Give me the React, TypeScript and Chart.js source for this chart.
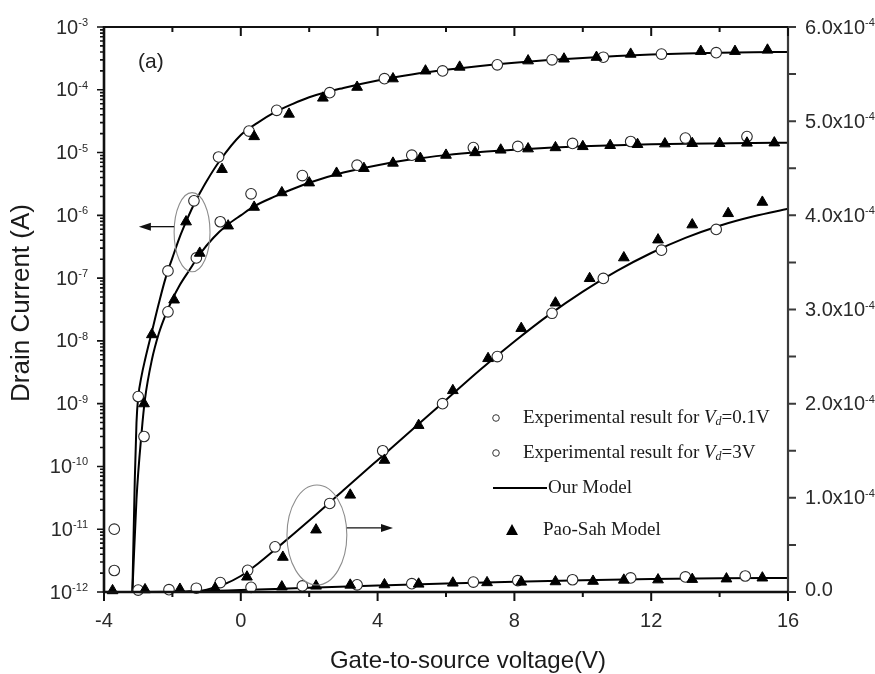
import React, { useEffect, useRef } from "react";
import { Chart, registerables } from "chart.js";

Chart.register(...registerables);

// ---------- Model curves ("Our Model"), left log axis ----------
const modelLogVd3X = [-3.17, -3.1, -3.05, -3.0, -2.9, -2.8, -2.6, -2.4, -2.2, -2.0, -1.8, -1.6, -1.4, -1.2, -1.0, -0.6, 0, 0.5, 1, 1.5, 2, 3, 4, 5, 6, 7, 8, 9, 10, 11, 12, 13, 14, 15, 16];
const modelLogVd3Y = [1e-12, 6e-11, 5e-10, 1.26e-9, 2.8e-9, 5e-9, 1.4e-8, 3.9e-8, 1.0e-7, 2.1e-7, 4.3e-7, 7.9e-7, 1.38e-6, 2.24e-6, 3.5e-6, 7.6e-6, 1.9e-5, 3.0e-5, 4.4e-5, 5.9e-5, 7.6e-5, 1.07e-4, 1.41e-4, 1.75e-4, 2.08e-4, 2.4e-4, 2.7e-4, 2.97e-4, 3.22e-4, 3.45e-4, 3.65e-4, 3.8e-4, 3.9e-4, 3.96e-4, 4.0e-4];

const modelLogVd01X = [-3.17, -3.05, -2.9, -2.8, -2.6, -2.4, -2.2, -2.0, -1.8, -1.5, -1.2, -0.8, -0.4, 0, 0.4, 1, 1.5, 2, 3, 4, 5, 6, 7, 8, 9, 10, 11, 12, 13, 14, 15, 16];
const modelLogVd01Y = [1e-12, 3e-11, 3.5e-10, 1.2e-9, 5e-9, 1.3e-8, 2.6e-8, 4.6e-8, 7.5e-8, 1.35e-7, 2.4e-7, 4.4e-7, 7e-7, 1.0e-6, 1.4e-6, 2.0e-6, 2.6e-6, 3.3e-6, 4.8e-6, 6.3e-6, 7.8e-6, 9.1e-6, 1.02e-5, 1.11e-5, 1.19e-5, 1.26e-5, 1.31e-5, 1.35e-5, 1.38e-5, 1.4e-5, 1.42e-5, 1.43e-5];

// ---------- Model curves, right linear axis ----------
const modelLinVd3X = [-1.6, -1.0, -0.5, 0, 0.5, 1, 2, 3, 4, 5, 6, 7, 8, 9, 10, 11, 12, 13, 14, 15, 16];
const modelLinVd3Y = [0, 2.5e-6, 8e-6, 1.7e-5, 3.0e-5, 4.5e-5, 7.6e-5, 1.08e-4, 1.4e-4, 1.72e-4, 2.04e-4, 2.36e-4, 2.66e-4, 2.94e-4, 3.19e-4, 3.41e-4, 3.6e-4, 3.76e-4, 3.89e-4, 3.99e-4, 4.07e-4];

const modelLinVd01X = [-3.17, -2, -1, 0, 1, 2, 4, 6, 8, 10, 12, 14, 16];
const modelLinVd01Y = [0, 3e-7, 1e-6, 2.2e-6, 3.3e-6, 4.5e-6, 6.8e-6, 9e-6, 1.1e-5, 1.26e-5, 1.38e-5, 1.46e-5, 1.5e-5];

// ---------- Experimental results (circles) ----------
const expLogVd3X = [-3.0, -2.13, -1.37, -0.65, 0.24, 1.05, 2.6, 4.2, 5.9, 7.5, 9.1, 10.6, 12.3, 13.9];
const expLogVd3Y = [1.3e-9, 1.3e-7, 1.7e-6, 8.5e-6, 2.2e-5, 4.7e-5, 9e-5, 1.5e-4, 2e-4, 2.5e-4, 3e-4, 3.3e-4, 3.7e-4, 3.9e-4];

const expLogVd01X = [-3.7, -3.7, -2.83, -2.13, -1.3, -0.6, 0.3, 1.8, 3.4, 5.0, 6.8, 8.1, 9.7, 11.4, 13.0, 14.8];
const expLogVd01Y = [1e-11, 2.2e-12, 3e-10, 2.9e-8, 2.1e-7, 7.9e-7, 2.2e-6, 4.3e-6, 6.3e-6, 9.1e-6, 1.2e-5, 1.25e-5, 1.4e-5, 1.5e-5, 1.7e-5, 1.8e-5];

const expLinVd3X = [-0.6, 0.2, 1.0, 2.6, 4.15, 5.9, 7.5, 9.1, 10.6, 12.3, 13.9];
const expLinVd3Y = [1e-5, 2.3e-5, 4.8e-5, 9.4e-5, 1.5e-4, 2.0e-4, 2.5e-4, 2.96e-4, 3.33e-4, 3.63e-4, 3.85e-4];

const expLinVd01X = [-3.0, -2.1, -1.3, 0.3, 1.8, 3.4, 5.0, 6.8, 8.1, 9.7, 11.4, 13.0, 14.75];
const expLinVd01Y = [2e-6, 2.5e-6, 4e-6, 5e-6, 6.4e-6, 7.6e-6, 8.8e-6, 1.05e-5, 1.2e-5, 1.3e-5, 1.5e-5, 1.6e-5, 1.7e-5];

// ---------- Pao-Sah model (triangles) ----------
const paoLogVd3X = [-2.6, -1.6, -0.55, 0.39, 1.41, 2.4, 3.4, 4.45, 5.4, 6.4, 8.4, 9.45, 10.4, 11.4, 13.45, 14.45, 15.4];
const paoLogVd3Y = [1.26e-8, 7.9e-7, 5.4e-6, 1.8e-5, 4.1e-5, 7.4e-5, 1.1e-4, 1.5e-4, 2e-4, 2.3e-4, 2.9e-4, 3.1e-4, 3.3e-4, 3.7e-4, 4.1e-4, 4.1e-4, 4.3e-4];

const paoLogVd01X = [-2.83, -1.95, -1.2, -0.37, 0.39, 1.2, 2.0, 2.8, 3.6, 4.45, 5.25, 6.0, 6.85, 7.6, 8.4, 9.2, 10.0, 10.8, 11.6, 12.4, 13.2, 14.0, 14.8, 15.6];
const paoLogVd01Y = [1e-9, 4.5e-8, 2.5e-7, 6.8e-7, 1.35e-6, 2.3e-6, 3.3e-6, 4.7e-6, 5.6e-6, 6.8e-6, 8.1e-6, 9.1e-6, 1.0e-5, 1.1e-5, 1.15e-5, 1.2e-5, 1.25e-5, 1.3e-5, 1.35e-5, 1.38e-5, 1.4e-5, 1.4e-5, 1.42e-5, 1.43e-5];

const paoLinVd3X = [0.18, 1.23, 2.2, 3.2, 4.2, 5.2, 6.2, 7.23, 8.2, 9.2, 10.2, 11.2, 12.2, 13.2, 14.25, 15.25];
const paoLinVd3Y = [1.6e-5, 3.7e-5, 6.6e-5, 1.03e-4, 1.4e-4, 1.77e-4, 2.14e-4, 2.48e-4, 2.8e-4, 3.07e-4, 3.33e-4, 3.55e-4, 3.74e-4, 3.9e-4, 4.02e-4, 4.14e-4];

const paoLinVd01X = [-3.75, -2.8, -1.78, -0.75, 1.2, 2.2, 3.2, 4.2, 5.2, 6.2, 7.2, 8.2, 9.2, 10.3, 11.2, 12.2, 13.2, 14.2, 15.25];
const paoLinVd01Y = [1.5e-6, 2.5e-6, 3e-6, 4e-6, 5.5e-6, 6.4e-6, 7.4e-6, 7.8e-6, 8.5e-6, 9.6e-6, 1.0e-5, 1.06e-5, 1.1e-5, 1.15e-5, 1.27e-5, 1.3e-5, 1.35e-5, 1.4e-5, 1.5e-5];

// ---------- Axes ----------
const xMin = -4, xMax = 16;
const xMajorTicks = [-4, 0, 4, 8, 12, 16];
const xMinorTicks = [-2, 2, 6, 10, 14];
const leftExponents = [-12, -11, -10, -9, -8, -7, -6, -5, -4, -3];
const rightTicks = [0, 1e-4, 2e-4, 3e-4, 4e-4, 5e-4, 6e-4];
const rightMinorTicks = [0.5e-4, 1.5e-4, 2.5e-4, 3.5e-4, 4.5e-4, 5.5e-4];
const rightExponent = -4;

const xTitle = "Gate-to-source voltage(V)";
const yTitle = "Drain Current (A)";
const panelLabel = "(a)";
const legendLabels = ["Experimental result for ", "Experimental result for ", "Our Model", "Pao-Sah Model"];
const legendVd = ["=0.1V", "=3V"];

// annotation groupings in data units
const groupLeft = { x0: -1.95, x1: -0.9, yLow: 1.26e-7, yHigh: 2.3e-6, arrowY: 6.6e-7, arrowTo: -2.98 };
const groupRight = { x0: 1.35, x1: 3.1, yLow: 7.4e-6, yHigh: 1.136e-4, arrowY: 6.8e-5, arrowTo: 4.45 };

const pts = (xs: number[], ys: number[]) => xs.map((x, i) => ({ x, y: ys[i] }));

const SANS = '"Liberation Sans", Arial, sans-serif';
const SERIF = '"Liberation Serif", "Times New Roman", serif';

const decor = {
  id: "decor",
  afterDatasetsDraw(chart: any) {
    const { ctx, chartArea: a } = chart;
    const sx = chart.scales.x;
    const sy = chart.scales.y;
    const sr = chart.scales.y2;
    ctx.save();

    // ---- ellipses & arrows ----
    const drawGroup = (g: any, scale: any, dir: number) => {
      const px0 = sx.getPixelForValue(g.x0);
      const px1 = sx.getPixelForValue(g.x1);
      const pyA = scale.getPixelForValue(g.yLow);
      const pyB = scale.getPixelForValue(g.yHigh);
      ctx.strokeStyle = "#8c8c8c";
      ctx.lineWidth = 1.1;
      ctx.beginPath();
      ctx.ellipse((px0 + px1) / 2, (pyA + pyB) / 2, Math.abs(px1 - px0) / 2, Math.abs(pyA - pyB) / 2, 0, 0, Math.PI * 2);
      ctx.stroke();
      const ay = scale.getPixelForValue(g.arrowY);
      const start = dir < 0 ? px0 : px1;
      const tip = sx.getPixelForValue(g.arrowTo);
      ctx.strokeStyle = "#111";
      ctx.fillStyle = "#111";
      ctx.lineWidth = 1.3;
      ctx.beginPath();
      ctx.moveTo(start, ay);
      ctx.lineTo(tip - dir * 8, ay);
      ctx.stroke();
      ctx.beginPath();
      ctx.moveTo(tip, ay);
      ctx.lineTo(tip - dir * 12, ay - 4);
      ctx.lineTo(tip - dir * 12, ay + 4);
      ctx.closePath();
      ctx.fill();
    };
    drawGroup(groupLeft, sy, -1);
    drawGroup(groupRight, sr, 1);

    // ---- frame ----
    ctx.lineCap = "butt";
    ctx.strokeStyle = "#111";
    ctx.lineWidth = 2;
    ctx.beginPath();
    ctx.moveTo(a.left, a.top);
    ctx.lineTo(a.right, a.top);
    ctx.stroke();
    ctx.strokeStyle = "#3a3a3a";
    ctx.lineWidth = 2.2;
    ctx.beginPath();
    ctx.moveTo(a.right, a.top);
    ctx.lineTo(a.right, a.bottom);
    ctx.stroke();
    ctx.strokeStyle = "#111";
    ctx.lineWidth = 2.6;
    ctx.beginPath();
    ctx.moveTo(a.left, a.top - 1);
    ctx.lineTo(a.left, a.bottom + 1);
    ctx.moveTo(a.left - 1, a.bottom);
    ctx.lineTo(a.right + 1, a.bottom);
    ctx.stroke();

    // ---- x ticks (bottom outward, top inward) ----
    ctx.strokeStyle = "#111";
    ctx.lineWidth = 2;
    ctx.beginPath();
    xMajorTicks.forEach((v) => {
      const px = sx.getPixelForValue(v);
      ctx.moveTo(px, a.bottom);
      ctx.lineTo(px, a.bottom + 9);
      ctx.moveTo(px, a.top);
      ctx.lineTo(px, a.top + 9);
    });
    xMinorTicks.forEach((v) => {
      const px = sx.getPixelForValue(v);
      ctx.moveTo(px, a.bottom);
      ctx.lineTo(px, a.bottom + 5);
      ctx.moveTo(px, a.top);
      ctx.lineTo(px, a.top + 5);
    });
    ctx.stroke();

    // ---- left ticks ----
    ctx.lineWidth = 1.6;
    ctx.beginPath();
    leftExponents.forEach((e) => {
      const py = sy.getPixelForValue(Math.pow(10, e));
      ctx.moveTo(a.left, py);
      ctx.lineTo(a.left - 7, py);
      if (e < -3) {
        for (let k = 2; k <= 9; k++) {
          const pm = sy.getPixelForValue(k * Math.pow(10, e));
          ctx.moveTo(a.left, pm);
          ctx.lineTo(a.left - 4, pm);
        }
      }
    });
    ctx.stroke();

    // ---- right ticks ----
    ctx.strokeStyle = "#3a3a3a";
    ctx.lineWidth = 2;
    ctx.beginPath();
    rightTicks.concat(rightMinorTicks).forEach((v) => {
      const py = sr.getPixelForValue(v);
      ctx.moveTo(a.right, py);
      ctx.lineTo(a.right + 8, py);
    });
    ctx.stroke();

    // ---- tick labels ----
    const baseFont = `20px ${SANS}`;
    const expFont = `11px ${SANS}`;
    ctx.fillStyle = "#2a2a2a";
    ctx.textBaseline = "middle";
    ctx.font = baseFont;
    ctx.textAlign = "center";
    xMajorTicks.forEach((v) => {
      ctx.fillText(String(v), sx.getPixelForValue(v), a.bottom + 29);
    });

    // left: 10^e, right aligned
    const leftEdge = a.left - 16;
    leftExponents.forEach((e) => {
      const py = sy.getPixelForValue(Math.pow(10, e));
      const es = String(e);
      ctx.font = expFont;
      const we = ctx.measureText(es).width;
      ctx.font = baseFont;
      const wb = ctx.measureText("10").width;
      ctx.textAlign = "left";
      ctx.textBaseline = "middle";
      ctx.fillText("10", leftEdge - we - wb, py + 1);
      ctx.font = expFont;
      ctx.textBaseline = "alphabetic";
      ctx.fillText(es, leftEdge - we, py - 1);
    });

    // right: n.nx10^-4, left aligned
    const rightEdge = a.right + 17;
    rightTicks.forEach((v) => {
      const py = sr.getPixelForValue(v);
      ctx.textAlign = "left";
      ctx.textBaseline = "middle";
      ctx.font = baseFont;
      if (v === 0) {
        ctx.fillText("0.0", rightEdge, py - 2);
        return;
      }
      const base = (v / Math.pow(10, rightExponent)).toFixed(1) + "x10";
      const wb = ctx.measureText(base).width;
      ctx.fillText(base, rightEdge, py + 1);
      ctx.font = expFont;
      ctx.textBaseline = "alphabetic";
      ctx.fillText(String(rightExponent), rightEdge + wb, py - 1);
    });

    // ---- axis titles ----
    ctx.fillStyle = "#1a1a1a";
    ctx.font = `24px ${SANS}`;
    ctx.textAlign = "center";
    ctx.textBaseline = "middle";
    ctx.fillText(xTitle, a.left + 364, a.bottom + 69);
    ctx.save();
    ctx.translate(22, a.top + 276);
    ctx.rotate(-Math.PI / 2);
    ctx.font = `26px ${SANS}`;
    ctx.fillText(yTitle, 0, 0);
    ctx.restore();

    // ---- panel label ----
    ctx.font = `21px ${SANS}`;
    ctx.textAlign = "left";
    ctx.fillStyle = "#222";
    ctx.fillText(panelLabel, a.left + 34, a.top + 35);

    // ---- legend ----
    const lx = a.left + 392; // symbol column
    const tx = a.left + 419; // text column
    const rows = [a.top + 391, a.top + 426, a.top + 461, a.top + 503];
    ctx.fillStyle = "#1a1a1a";
    ctx.textBaseline = "middle";
    const serif = `19px ${SERIF}`;
    for (let i = 0; i < 2; i++) {
      ctx.strokeStyle = "#333";
      ctx.lineWidth = 1;
      ctx.beginPath();
      ctx.arc(lx, rows[i], 3.3, 0, Math.PI * 2);
      ctx.stroke();
      ctx.font = serif;
      ctx.textAlign = "left";
      let x = tx;
      ctx.fillText(legendLabels[i], x, rows[i]);
      x += ctx.measureText(legendLabels[i]).width;
      ctx.font = `italic 19px ${SERIF}`;
      ctx.fillText("V", x, rows[i]);
      x += ctx.measureText("V").width;
      ctx.font = `italic 12px ${SERIF}`;
      ctx.fillText("d", x, rows[i] + 4);
      x += ctx.measureText("d").width;
      ctx.font = serif;
      ctx.fillText(legendVd[i], x, rows[i]);
    }
    ctx.strokeStyle = "#000";
    ctx.lineWidth = 2;
    ctx.beginPath();
    ctx.moveTo(lx - 3, rows[2]);
    ctx.lineTo(lx + 51, rows[2]);
    ctx.stroke();
    ctx.font = serif;
    ctx.fillText(legendLabels[2], lx + 52, rows[2]);
    ctx.fillStyle = "#000";
    const tcx = lx + 16;
    ctx.beginPath();
    ctx.moveTo(tcx, rows[3] - 6);
    ctx.lineTo(tcx + 6, rows[3] + 5);
    ctx.lineTo(tcx - 6, rows[3] + 5);
    ctx.closePath();
    ctx.fill();
    ctx.fillStyle = "#1a1a1a";
    ctx.fillText(legendLabels[3], lx + 47, rows[3]);

    ctx.restore();
  },
};

export default function App() {
  const ref = useRef<HTMLCanvasElement>(null);
  useEffect(() => {
    const line = (xs: number[], ys: number[], axis: string) => ({
      type: "line" as const,
      data: pts(xs, ys),
      yAxisID: axis,
      showLine: true,
      borderColor: "#000",
      borderWidth: 2,
      pointRadius: 0,
      cubicInterpolationMode: "monotone" as const,
      order: 3,
    });
    const circles = (xs: number[], ys: number[], axis: string) => ({
      type: "scatter" as const,
      data: pts(xs, ys),
      yAxisID: axis,
      showLine: false,
      pointStyle: "circle",
      pointRadius: 5.3,
      pointBackgroundColor: "#fff",
      pointBorderColor: "#2a2a2a",
      pointBorderWidth: 1.1,
      clip: false,
      order: 2,
    });
    const tris = (xs: number[], ys: number[], axis: string) => ({
      type: "scatter" as const,
      data: pts(xs, ys),
      yAxisID: axis,
      showLine: false,
      pointStyle: "triangle",
      pointRadius: 6.2,
      pointBackgroundColor: "#000",
      pointBorderColor: "#000",
      pointBorderWidth: 1,
      clip: false,
      order: 1,
    });

    const chart = new Chart(ref.current as HTMLCanvasElement, {
      type: "scatter",
      data: {
        datasets: [
          line(modelLogVd3X, modelLogVd3Y, "y"),
          line(modelLogVd01X, modelLogVd01Y, "y"),
          line(modelLinVd3X, modelLinVd3Y, "y2"),
          line(modelLinVd01X, modelLinVd01Y, "y2"),
          circles(expLogVd3X, expLogVd3Y, "y"),
          circles(expLogVd01X, expLogVd01Y, "y"),
          circles(expLinVd3X, expLinVd3Y, "y2"),
          circles(expLinVd01X, expLinVd01Y, "y2"),
          tris(paoLogVd3X, paoLogVd3Y, "y"),
          tris(paoLogVd01X, paoLogVd01Y, "y"),
          tris(paoLinVd3X, paoLinVd3Y, "y2"),
          tris(paoLinVd01X, paoLinVd01Y, "y2"),
        ] as any,
      },
      options: {
        responsive: false,
        animation: false,
        devicePixelRatio: 1,
        layout: { padding: { left: 104, right: 87, top: 27, bottom: 82 } },
        plugins: { legend: { display: false }, tooltip: { enabled: false } },
        scales: {
          x: { type: "linear", min: xMin, max: xMax, display: false },
          y: { type: "logarithmic", min: 1e-12, max: 1e-3, display: false, position: "left" },
          y2: { type: "linear", min: 0, max: 6e-4, display: false, position: "right" },
        },
      },
      plugins: [decor],
    });
    return () => chart.destroy();
  }, []);

  return (
    <div style={{ position: "fixed", left: 0, top: 0, width: 875, height: 674, background: "#fff" }}>
      <canvas ref={ref} width={875} height={674} style={{ display: "block" }} />
    </div>
  );
}
